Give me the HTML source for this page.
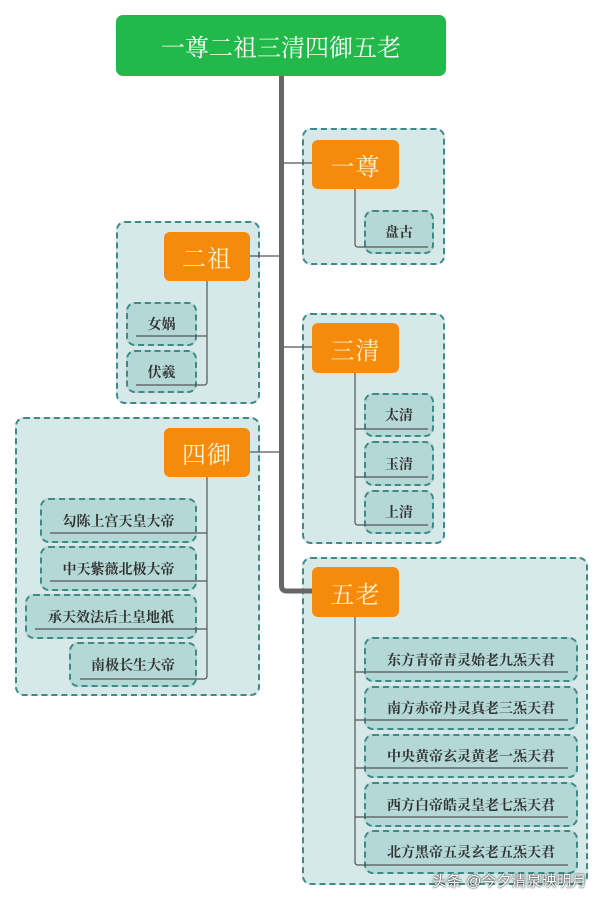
<!DOCTYPE html>
<html><head><meta charset="utf-8"><style>
body{margin:0;width:604px;height:901px;background:#fff;position:relative;overflow:hidden;font-family:"Liberation Serif","Noto Serif CJK SC",serif}
.a{position:absolute;box-sizing:border-box}
.g{background:#d6e9e8;border:2px dashed #3d8a88;border-radius:9px}
.n{background:#f68a0a;border-radius:6px;color:#fff3d0;font-size:24px;display:flex;align-items:center;justify-content:center;letter-spacing:1px}
.l{background:#b3d8d6;border:2px dashed #3d8a88;border-radius:9px;color:#333;font-size:14px;font-weight:bold;display:flex;align-items:center;justify-content:center}
svg{position:absolute;left:0;top:0}
</style></head><body>
<div class="a" style="left:116px;top:15px;width:330px;height:61px;background:#22b84a;border-radius:7px;color:#fff;font-size:24px;display:flex;align-items:center;justify-content:center">一尊二祖三清四御五老</div>

<div class="a g" style="left:302px;top:128px;width:143px;height:137px"></div>
<div class="a g" style="left:116px;top:221px;width:144px;height:183px"></div>
<div class="a g" style="left:302px;top:313px;width:143px;height:231px"></div>
<div class="a g" style="left:15px;top:417px;width:245px;height:279px"></div>
<div class="a g" style="left:302px;top:557px;width:286px;height:328px"></div>

<div class="a n" style="left:312px;top:140px;width:87px;height:49px">一尊</div>
<div class="a n" style="left:164px;top:232px;width:86px;height:49px">二祖</div>
<div class="a n" style="left:312px;top:323px;width:87px;height:50px">三清</div>
<div class="a n" style="left:164px;top:428px;width:86px;height:49px">四御</div>
<div class="a n" style="left:312px;top:567px;width:87px;height:50px">五老</div>

<div class="a l" style="left:364px;top:210px;width:70px;height:44px">盘古</div>
<div class="a l" style="left:126px;top:302px;width:71px;height:44px">女娲</div>
<div class="a l" style="left:126px;top:350px;width:71px;height:43px">伏羲</div>
<div class="a l" style="left:364px;top:393px;width:70px;height:44px">太清</div>
<div class="a l" style="left:364px;top:441px;width:70px;height:45px">玉清</div>
<div class="a l" style="left:364px;top:490px;width:70px;height:44px">上清</div>
<div class="a l" style="left:40px;top:498px;width:157px;height:45px">勾陈上宫天皇大帝</div>
<div class="a l" style="left:40px;top:546px;width:157px;height:45px">中天紫薇北极大帝</div>
<div class="a l" style="left:25px;top:594px;width:172px;height:45px">承天效法后土皇地祇</div>
<div class="a l" style="left:69px;top:642px;width:128px;height:45px">南极长生大帝</div>
<div class="a l" style="left:364px;top:637px;width:214px;height:45px">东方青帝青灵始老九炁天君</div>
<div class="a l" style="left:364px;top:686px;width:214px;height:44px">南方赤帝丹灵真老三炁天君</div>
<div class="a l" style="left:364px;top:734px;width:214px;height:44px">中央黄帝玄灵黄老一炁天君</div>
<div class="a l" style="left:364px;top:782px;width:214px;height:45px">西方白帝皓灵皇老七炁天君</div>
<div class="a l" style="left:364px;top:830px;width:214px;height:44px">北方黑帝五灵玄老五炁天君</div>

<svg width="604" height="901" fill="none">
<path d="M281.5 76 V586 Q281.5 591 287 591 H312" stroke="#666" stroke-width="5"/>
<g stroke="#555" stroke-width="1.2">
<path d="M284 163 H312 M250 256 H279 M284 347 H312 M250 452 H279"/>
<path d="M355 189 V244 Q355 247 358 247 H428"/>
<path d="M207 281 V382 Q207 385 204 385 H136 M207 336 H136"/>
<path d="M355 373 V522 Q355 525 358 525 H428 M355 429 H428 M355 477 H428"/>
<path d="M207 477 V676 Q207 679 204 679 H80 M207 533 H50 M207 581 H50 M207 629 H35"/>
<path d="M355 617 V862 Q355 865 358 865 H568 M355 672 H568 M355 720 H568 M355 768 H568 M355 817 H568"/>
</g>
</svg>
<div class="a" style="left:432px;top:870px;color:#fff;font-size:15px;font-family:'Liberation Sans','Noto Sans CJK SC',sans-serif;text-shadow:0 0 2px #333,0 0 1px #222">头条 @今夕清泉映明月</div>
</body></html>
